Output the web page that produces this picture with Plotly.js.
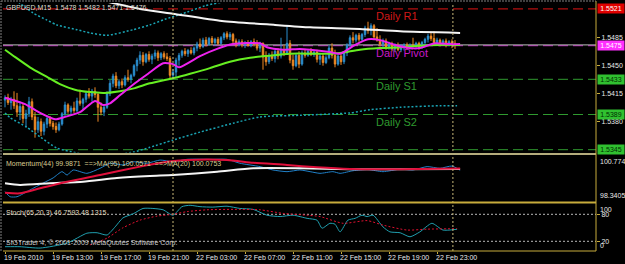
<!DOCTYPE html>
<html><head><meta charset="utf-8">
<script src="https://cdn.plot.ly/plotly-3.0.1.min.js"></script>
<style>html,body{margin:0;padding:0;background:#000;}#chart{width:625px;height:264px;}</style>
</head><body><div id="chart"></div>
<script>
// ---- price bars (GBPUSD M15) ----
const open = [1.5407,1.5410,1.5404,1.5408,1.5400,1.5392,1.5399,1.5384,1.5390,1.5405,
1.5386,1.5370,1.5380,1.5368,1.5377,1.5384,1.5378,1.5374,1.5370,1.5377,
1.5390,1.5401,1.5393,1.5397,1.5394,1.5406,1.5403,1.5408,1.5415,1.5412,
1.5418,1.5414,1.5398,1.5392,1.5398,1.5415,1.5428,1.5437,1.5425,1.5430,
1.5426,1.5435,1.5433,1.5438,1.5450,1.5457,1.5463,1.5455,1.5464,1.5458,
1.5462,1.5466,1.5460,1.5465,1.5461,1.5459,1.5438,1.5442,1.5457,1.5463,
1.5468,1.5465,1.5469,1.5466,1.5472,1.5477,1.5474,1.5482,1.5477,1.5484,
1.5479,1.5483,1.5478,1.5485,1.5490,1.5486,1.5489,1.5481,1.5476,1.5480,
1.5476,1.5478,1.5475,1.5480,1.5477,1.5472,1.5478,1.5461,1.5455,1.5463,
1.5459,1.5468,1.5462,1.5470,1.5466,1.5478,1.5457,1.5450,1.5463,1.5452,
1.5466,1.5463,1.5468,1.5464,1.5467,1.5458,1.5462,1.5454,1.5460,1.5472,
1.5463,1.5452,1.5462,1.5455,1.5466,1.5476,1.5485,1.5482,1.5488,1.5483,
1.5489,1.5497,1.5494,1.5500,1.5486,1.5482,1.5477,1.5481,1.5473,1.5477,
1.5471,1.5475,1.5470,1.5474,1.5476,1.5472,1.5476,1.5475,1.5478,1.5473,
1.5479,1.5483,1.5487,1.5484,1.5479,1.5482,1.5477,1.5481,1.5476,1.5480,
1.5478];
const high = [1.5413,1.5415,1.5411,1.5418,1.5416,1.5405,1.5403,1.5395,1.5411,1.5409,
1.5392,1.5386,1.5384,1.5380,1.5388,1.5387,1.5381,1.5379,1.5380,1.5392,
1.5405,1.5403,1.5400,1.5405,1.5410,1.5420,1.5410,1.5418,1.5422,1.5421,
1.5423,1.5417,1.5404,1.5401,1.5418,1.5432,1.5440,1.5442,1.5433,1.5434,
1.5438,1.5445,1.5440,1.5452,1.5460,1.5468,1.5467,1.5466,1.5468,1.5465,
1.5470,1.5469,1.5467,1.5468,1.5466,1.5462,1.5446,1.5460,1.5466,1.5470,
1.5472,1.5471,1.5473,1.5474,1.5480,1.5484,1.5485,1.5486,1.5486,1.5487,
1.5485,1.5486,1.5487,1.5492,1.5493,1.5492,1.5491,1.5484,1.5483,1.5483,
1.5481,1.5482,1.5482,1.5484,1.5482,1.5480,1.5479,1.5468,1.5466,1.5468,
1.5470,1.5472,1.5485,1.5476,1.5501,1.5482,1.5464,1.5466,1.5468,1.5469,
1.5471,1.5470,1.5472,1.5470,1.5470,1.5466,1.5465,1.5463,1.5476,1.5478,
1.5470,1.5466,1.5466,1.5468,1.5478,1.5488,1.5492,1.5490,1.5491,1.5491,
1.5500,1.5505,1.5503,1.5502,1.5497,1.5488,1.5484,1.5484,1.5480,1.5480,
1.5478,1.5479,1.5477,1.5478,1.5479,1.5478,1.5485,1.5480,1.5480,1.5481,
1.5485,1.5490,1.5492,1.5493,1.5485,1.5484,1.5483,1.5484,1.5482,1.5483,
1.5482];
const low = [1.5398,1.5401,1.5395,1.5396,1.5386,1.5382,1.5378,1.5373,1.5386,1.5382,
1.5360,1.5366,1.5362,1.5363,1.5372,1.5374,1.5370,1.5366,1.5368,1.5375,
1.5386,1.5390,1.5388,1.5391,1.5392,1.5400,1.5395,1.5404,1.5409,1.5405,
1.5410,1.5380,1.5388,1.5387,1.5396,1.5412,1.5423,1.5422,1.5421,1.5422,
1.5424,1.5430,1.5428,1.5436,1.5443,1.5452,1.5450,1.5453,1.5455,1.5452,
1.5458,1.5456,1.5457,1.5458,1.5456,1.5434,1.5435,1.5436,1.5450,1.5460,
1.5462,1.5461,1.5464,1.5463,1.5468,1.5471,1.5472,1.5474,1.5475,1.5476,
1.5475,1.5476,1.5476,1.5482,1.5483,1.5482,1.5478,1.5473,1.5474,1.5473,
1.5472,1.5474,1.5473,1.5474,1.5469,1.5467,1.5445,1.5450,1.5452,1.5456,
1.5454,1.5458,1.5459,1.5462,1.5464,1.5453,1.5445,1.5448,1.5447,1.5450,
1.5460,1.5461,1.5462,1.5461,1.5454,1.5451,1.5450,1.5452,1.5458,1.5459,
1.5448,1.5450,1.5451,1.5452,1.5462,1.5473,1.5478,1.5479,1.5480,1.5481,
1.5486,1.5490,1.5488,1.5482,1.5480,1.5474,1.5472,1.5470,1.5470,1.5468,
1.5467,1.5468,1.5467,1.5469,1.5470,1.5470,1.5473,1.5471,1.5470,1.5471,
1.5476,1.5479,1.5481,1.5476,1.5476,1.5474,1.5475,1.5473,1.5474,1.5472,
1.5471];
const close = [1.5410,1.5404,1.5408,1.5400,1.5392,1.5399,1.5384,1.5390,1.5405,1.5386,
1.5370,1.5380,1.5368,1.5377,1.5384,1.5378,1.5374,1.5370,1.5377,1.5390,
1.5401,1.5393,1.5397,1.5394,1.5406,1.5403,1.5408,1.5415,1.5412,1.5418,
1.5414,1.5398,1.5392,1.5398,1.5415,1.5428,1.5437,1.5425,1.5430,1.5426,
1.5435,1.5433,1.5438,1.5450,1.5457,1.5463,1.5455,1.5464,1.5458,1.5462,
1.5466,1.5460,1.5465,1.5461,1.5459,1.5438,1.5442,1.5457,1.5463,1.5468,
1.5465,1.5469,1.5466,1.5472,1.5477,1.5474,1.5482,1.5477,1.5484,1.5479,
1.5483,1.5478,1.5485,1.5490,1.5486,1.5489,1.5481,1.5476,1.5480,1.5476,
1.5478,1.5475,1.5480,1.5477,1.5472,1.5478,1.5461,1.5455,1.5463,1.5459,
1.5468,1.5462,1.5470,1.5466,1.5478,1.5457,1.5450,1.5463,1.5452,1.5466,
1.5463,1.5468,1.5464,1.5467,1.5458,1.5462,1.5454,1.5460,1.5472,1.5463,
1.5452,1.5462,1.5455,1.5466,1.5476,1.5485,1.5482,1.5488,1.5483,1.5489,
1.5497,1.5494,1.5500,1.5486,1.5482,1.5477,1.5481,1.5473,1.5477,1.5471,
1.5475,1.5470,1.5474,1.5476,1.5472,1.5476,1.5475,1.5478,1.5473,1.5479,
1.5483,1.5487,1.5484,1.5479,1.5482,1.5477,1.5481,1.5476,1.5480,1.5478,
1.5476];

// ---- time axis (bar index of each label) ----
const tickBars = [0,16,32,48,64,80,96,112,128,144];
const tickLabels = ['19 Feb 2010','19 Feb 13:00','19 Feb 17:00','19 Feb 21:00','22 Feb 03:00','22 Feb 07:00','22 Feb 11:00','22 Feb 15:00','22 Feb 19:00','22 Feb 23:00'];
const daySeparators = [56, 149.3];

// ---- moving averages / envelopes on price (bar index, price) ----
const fastMaX = [0,6.7,11.7,16.7,20,25,30,32.7,35,38.3,43.3,47.7,52.7,56,58,65,70.7,76,85,87.3,92.7,98.3,101.7,108.3,111.7,116.7,121,125,130,135,138.3,143.3,148.3,151.7];
const fastMaY = [1.5410,1.5402,1.5391,1.5383,1.5386,1.5392,1.5406,1.5401,1.5403,1.5413,1.5428,1.5440,1.5453,1.5452,1.5448,1.5462,1.5471,1.5477,1.5478,1.5473,1.5470,1.5471,1.5470,1.5467,1.5465,1.5476,1.5483,1.5482,1.5476,1.5472,1.5472,1.5478,1.5477,1.5477];
const slowMaX = [0,3.3,8.3,14,18.3,23.3,28.3,33.3,38.3,43.3,48.3,56.7,61.7,68.3,75,81.7,86.7,95,106.7,111.7,118.3,125,131.7,138.3,145,151.7];
const slowMaY = [1.5470,1.5461,1.5448,1.5436,1.5427,1.5420,1.5417,1.5416,1.5418,1.5422,1.5428,1.5435,1.5440,1.5447,1.5455,1.5460,1.5462,1.5465,1.5465,1.5466,1.5470,1.5472,1.5473,1.5475,1.5476,1.5476];
const longMaX = [30,34,45,56,72.3,90,101.7,118.3,131.7,151.7];
const longMaY = [1.5533,1.5530,1.5521,1.5515,1.5506,1.5501,1.5498,1.5496,1.5493,1.5491];
const upperEnvX = [2.3,5,9.3,14,17.3,24,28.3,34,42.7,48.3,53.3,60.7,66.7,72.7,76.7];
const upperEnvY = [1.5535,1.5528,1.5516,1.5507,1.5501,1.5495,1.5491,1.5488,1.5495,1.5501,1.5508,1.5517,1.5525,1.5530,1.5535];
const lowerEnvX = [0,1.7,7.3,11.7,17.3,24,31.7,42.7,48.3,56,65,76,85,98.3,115,121.7,131.7,145,150.7];
const lowerEnvY = [1.5391,1.5385,1.5373,1.5361,1.5347,1.5341,1.5337,1.5342,1.5348,1.5357,1.5367,1.5378,1.5386,1.5388,1.5391,1.5395,1.5398,1.5400,1.5400];

// ---- daily pivot levels ----
const levelNames = ['Daily R1','Daily Pivot','Daily S1','Daily S2','Daily S3'];
const levelValues = [1.5521,1.5475,1.5433,1.5389,1.5345];

// ---- Momentum(44) with MA(95) and MA(20) ----
const momX = [0,1.7,4,8.3,12.7,16,19,20.7,22.7,27.3,31.7,35,39.3,42.7,47.3,51.7,56,60.7,69.3,74,78.3,85,89.3,94,98.3,101.7,105,109.3,111.7,116,121,126,131.7,136,140.7,145,149,151.7];
const momY = [98.84,98.57,98.57,98.93,99.30,99.57,99.91,99.73,100.00,99.82,100.09,100.36,100.27,100.44,100.36,100.53,100.44,100.57,100.57,100.57,100.36,100.18,100.00,99.91,100.00,99.91,99.82,99.91,99.82,99.96,100.02,99.91,100.04,100.00,100.18,100.09,100.21,99.9871];
const ma95X = [0,5,15,26,37.3,48.3,56,70.7,82.7,98.3,115,131.7,151.7];
const ma95Y = [99.29,99.20,99.29,99.37,99.57,99.68,99.73,99.91,100.09,100.09,100.04,100.04,100.0571];
const ma20X = [0,5,11.7,20.7,31.7,45,54,60.7,74,82.7,94,104,115,131.7,151.7];
const ma20Y = [98.78,98.75,99.02,99.37,99.73,100.18,100.44,100.53,100.53,100.39,100.27,100.14,100.05,100.04,100.0753];
const momMin = 98.3405, momMax = 100.7743;

// ---- Stochastic(65,20,3) ----
const stochX = [0,5,11.7,20.7,27.3,30.7,34,36.7,39.3,42.7,46,49.3,52.7,56,59,61.7,65,69.3,74,78.3,82.7,87.3,91.7,96,100.7,104,105.7,108.3,110,111.7,114.3,116.7,119,120.7,122.7,126,128.3,131.7,135,138.3,142.3,146,150.7];
const stochY = [8,8,5,16,38,39,34,52,72,81,93,93,90,78,97,100,97,96,98,93,91,78,75,78,71,67,49,60,58,41,67,71,78,75,78,52,41,39,30,41,60,45,46.7593];
const signalX = [28.3,34,39.3,45,50.7,56,60.7,67.3,76,85,92.7,100.7,105,112.7,120.7,126,134,140.7,150.7];
const signalY = [12,27,50,67,76,80,86,90,91,90,82,78,75,60,66,56,45,47,48.1315];
const stochLevels = [80,20];

// ---------------- drawing ----------------
const F = 'Liberation Sans, Arial, sans-serif';
const OLIVE = '#c8ac3c';
const bars = close.map((_, i) => i);
const L = (x, y, yaxis, color, width, dash) => ({type:'scatter', mode:'lines', x, y, yaxis, xaxis:'x',
  line:{color, width, dash: dash || 'solid', shape:'spline', smoothing:0.6}, hoverinfo:'skip'});

const traces = [
  {type:'candlestick', x:bars, open, high, low, close, xaxis:'x', yaxis:'y', whiskerwidth:0,
   increasing:{line:{color:'#2a8fd0', width:1}, fillcolor:'#2a8fd0'},
   decreasing:{line:{color:'#f08a24', width:1}, fillcolor:'#f08a24'}, hoverinfo:'skip'},
  L(upperEnvX, upperEnvY, 'y', '#1aa5b5', 1.5, '2px,2px'),
  L(lowerEnvX, lowerEnvY, 'y', '#1aa5b5', 1.5, '2px,2px'),
  L(longMaX, longMaY, 'y', '#f4f4f4', 2),
  L(slowMaX, slowMaY, 'y', '#66ee22', 2),
  L(fastMaX, fastMaY, 'y', '#ee22ee', 2),
  L(momX, momY, 'y2', '#2080c8', 1),
  L(ma95X, ma95Y, 'y2', '#f4f4f4', 2),
  L(ma20X, ma20Y, 'y2', '#e0103c', 2),
  L(stochX, stochY, 'y3', '#20a0b0', 1),
  L(signalX, signalY, 'y3', '#e01030', 1, '2px,2px')
];

const levelLine = ['#e01414','#c818c8','#2f9a2f','#2f9a2f','#2f9a2f'];
const levelText = ['#d01818','#c818c8','#2f9a2f','#2f9a2f','#2f9a2f'];
const boxBg = ['#e00000','#ff30ff','#30c030','#30c030','#30c030'];
const boxFg = ['#ffffff','#ffffff','#003000','#003000','#003000'];
const pY = y => (251 - y) / 248; // paper fraction from pixel row

const shapes = [];
levelValues.forEach((v, k) => {
  shapes.push({type:'line', xref:'paper', x0:0, x1:1, yref:'y', y0:v, y1:v, layer:'below',
    line:{color:levelLine[k], width:1, dash:'10px,5px'}});
});
// bid line (last close)
const bid = close[close.length - 1];
shapes.push({type:'line', xref:'paper', x0:0, x1:1, yref:'y', y0:bid, y1:bid, layer:'below', line:{color:'#c0c0c0', width:1}});
daySeparators.forEach(d => shapes.push({type:'line', xref:'x', x0:d, x1:d, yref:'paper', y0:0, y1:1,
  line:{color:'#c8b878', width:1, dash:'2px,2px'}}));
stochLevels.forEach(v => shapes.push({type:'line', xref:'paper', x0:0, x1:1, yref:'y3', y0:v, y1:v, layer:'below',
  line:{color:'#b8b8b8', width:1, dash:'2px,2px'}}));
// borders
shapes.push({type:'line', xref:'paper', x0:0, x1:1, yref:'paper', y0:pY(154), y1:pY(154), line:{color:'#b4ac7c', width:2}});
shapes.push({type:'line', xref:'paper', x0:0, x1:1, yref:'paper', y0:pY(202.5), y1:pY(202.5), line:{color:OLIVE, width:2}});
shapes.push({type:'line', xref:'paper', x0:0, x1:1, yref:'paper', y0:0, y1:0, line:{color:OLIVE, width:1}});
shapes.push({type:'line', xref:'paper', x0:1, x1:1, yref:'paper', y0:0, y1:pY(1), line:{color:OLIVE, width:1}});
shapes.push({type:'line', xref:'paper', x0:-2/593, x1:-2/593, yref:'paper', y0:0, y1:pY(1), line:{color:'#808080', width:1, dash:'2px,1px'}});
shapes.push({type:'line', xref:'paper', x0:-2/593, x1:1, yref:'paper', y0:pY(1), y1:pY(1), line:{color:'#808080', width:1, dash:'2px,1px'}});

const annotations = [];
levelValues.forEach((v, k) => {
  annotations.push({xref:'paper', x:1, xanchor:'left', xshift:1, yref:'y', y:v, yanchor:'middle',
    text:v.toFixed(4), showarrow:false, bgcolor:boxBg[k], width:26, height:9, borderpad:0,
    font:{family:F, size:7, color:boxFg[k]}});
  if (k < 4) annotations.push({xref:'x', x:123, xanchor:'left', yref:'y', y:v, yanchor:'top', yshift:1,
    text:levelNames[k], showarrow:false, font:{family:F, size:11, color:levelText[k]}});
});
// time labels: left-aligned at their bar, below the bottom pane
tickBars.forEach((b, k) => annotations.push({xref:'x', x:b, xanchor:'left', xshift:-3, yref:'paper', y:0,
  yanchor:'top', yshift:-1, text:tickLabels[k], showarrow:false, font:{family:F, size:7, color:'#e8e8e8'}}));
const txt = (text, yref, y, yanchor, yshift, color) => ({xref:'paper', x:0, xanchor:'left', xshift:1,
  yref, y, yanchor, yshift, text, showarrow:false, font:{family:F, size:7, color}});
annotations.push(txt('GBPUSD,M15  ' + [open, high, low, close].map(a => a[a.length-1].toFixed(4)).join(' '), 'paper', 1, 'top', 1, '#dcdcd0'));
annotations.push(txt('Momentum(44) ' + momY[momY.length-1].toFixed(4) + '  ==>MA(95) ' + ma95Y[ma95Y.length-1].toFixed(4) + '  ==>MA(20) ' + ma20Y[ma20Y.length-1].toFixed(4), 'y2 domain', 1, 'top', -2, '#d8cc90'));
annotations.push(txt('Stoch(65,20,3) ' + stochY[stochY.length-1].toFixed(4) + ' ' + signalY[signalY.length-1].toFixed(4), 'y3 domain', 1, 'top', -3, '#e0dcc0'));
annotations.push(txt('SIGTrader 4, © 2001-2009 MetaQuotes Software Corp.', 'y3 domain', 0, 'bottom', 2, '#c8c8c8'));
const rlab = (text, yref, y, yanchor) => ({xref:'paper', x:1, xanchor:'left', xshift:2, yref, y, yanchor,
  text, showarrow:false, font:{family:F, size:7, color:'#e8e8e8'}});
annotations.push(rlab(momMax.toFixed(4), 'y2 domain', 1, 'top'));
annotations.push(rlab(momMin.toFixed(4), 'y2 domain', 0, 'bottom'));
annotations.push(rlab('100', 'y3 domain', 1, 'top'));
annotations.push(rlab('0', 'y3 domain', 0, 'bottom'));

const tf = {family:F, size:7, color:'#e8e8e8'};
const layout = {
  width:625, height:264, paper_bgcolor:'#000', plot_bgcolor:'#000',
  margin:{l:3, r:29, t:3, b:13}, showlegend:false, hovermode:false,
  xaxis:{domain:[0,1], anchor:'y3', range:[-0.667,197], tickmode:'array', tickvals:tickBars,
    ticks:'outside', ticklen:2, tickcolor:OLIVE, showticklabels:false,
    showgrid:false, zeroline:false, showline:false, rangeslider:{visible:false}, fixedrange:true},
  yaxis:{domain:[pY(152.5),1], range:[1.53415,1.55284], side:'right', anchor:'x', tickmode:'array',
    tickvals:[1.5485,1.5450,1.5415,1.5380], tickformat:'.4f', ticks:'outside', ticklen:3, tickcolor:OLIVE,
    tickfont:tf, showgrid:false, zeroline:false, showline:false, fixedrange:true},
  yaxis2:{domain:[pY(201),pY(155.5)], range:[momMin,momMax], side:'right', anchor:'x', showticklabels:false,
    ticks:'', showgrid:false, zeroline:false, showline:false, fixedrange:true},
  yaxis3:{domain:[0,pY(204)], range:[-1.56,102.9], side:'right', anchor:'x', tickmode:'array', tickvals:stochLevels,
    ticks:'outside', ticklen:3, tickcolor:OLIVE, tickfont:tf, showgrid:false, zeroline:false, showline:false, fixedrange:true},
  shapes, annotations
};
Plotly.newPlot('chart', traces, layout, {staticPlot:true, displayModeBar:false});
</script></body></html>
